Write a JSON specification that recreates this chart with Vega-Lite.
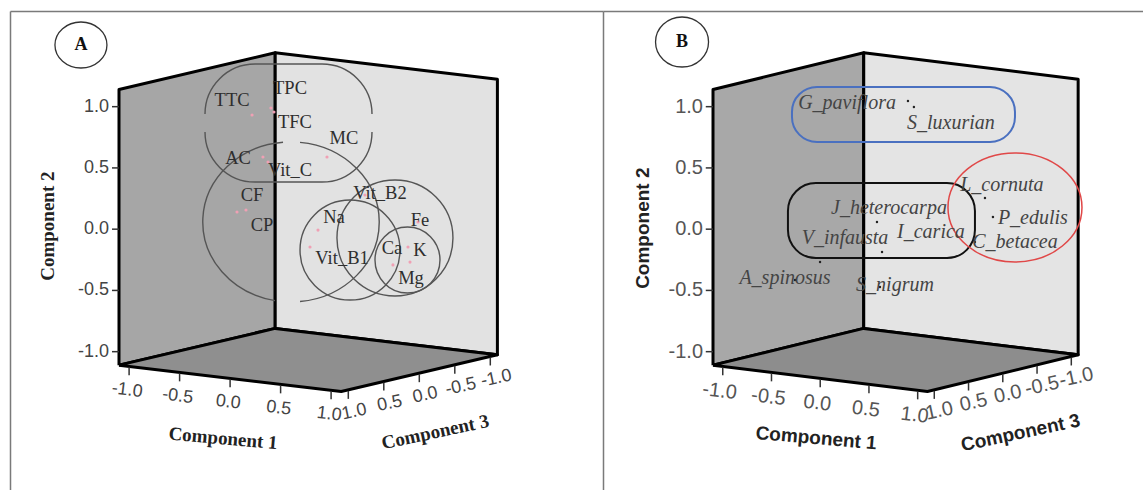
{
  "$schema": "https://vega.github.io/schema/vega-lite/v6.json",
  "padding": {"left": 10, "top": 11, "right": 0, "bottom": 0},
  "spacing": 0,
  "bounds": "flush",
  "background": "white",
  "config": {"view": {"stroke": null}},
  "resolve": {"scale": {"x": "independent", "y": "independent"}},
  "data": {"values": [
    {"kind":"face","face":"left","idx":0,"c1":-1.1,"c2":-1.11,"c3":1.1},
    {"kind":"face","face":"left","idx":1,"c1":-1.1,"c2":1.14,"c3":1.1},
    {"kind":"face","face":"left","idx":2,"c1":-1.1,"c2":1.14,"c3":-1.1},
    {"kind":"face","face":"left","idx":3,"c1":-1.1,"c2":-1.11,"c3":-1.1},
    {"kind":"face","face":"left","idx":4,"c1":-1.1,"c2":-1.11,"c3":1.1},
    {"kind":"face","face":"right","idx":0,"c1":-1.1,"c2":-1.11,"c3":-1.1},
    {"kind":"face","face":"right","idx":1,"c1":-1.1,"c2":1.14,"c3":-1.1},
    {"kind":"face","face":"right","idx":2,"c1":1.1,"c2":1.14,"c3":-1.1},
    {"kind":"face","face":"right","idx":3,"c1":1.1,"c2":-1.11,"c3":-1.1},
    {"kind":"face","face":"right","idx":4,"c1":-1.1,"c2":-1.11,"c3":-1.1},
    {"kind":"face","face":"floor","idx":0,"c1":-1.1,"c2":-1.11,"c3":1.1},
    {"kind":"face","face":"floor","idx":1,"c1":-1.1,"c2":-1.11,"c3":-1.1},
    {"kind":"face","face":"floor","idx":2,"c1":1.1,"c2":-1.11,"c3":-1.1},
    {"kind":"face","face":"floor","idx":3,"c1":1.1,"c2":-1.11,"c3":1.1},
    {"kind":"face","face":"floor","idx":4,"c1":-1.1,"c2":-1.11,"c3":1.1},

    {"kind":"tick","axis":"c2","c1":-1.1,"c2":1.0,"c3":1.1,"label":"1.0"},
    {"kind":"tick","axis":"c2","c1":-1.1,"c2":0.5,"c3":1.1,"label":"0.5"},
    {"kind":"tick","axis":"c2","c1":-1.1,"c2":0.0,"c3":1.1,"label":"0.0"},
    {"kind":"tick","axis":"c2","c1":-1.1,"c2":-0.5,"c3":1.1,"label":"-0.5"},
    {"kind":"tick","axis":"c2","c1":-1.1,"c2":-1.0,"c3":1.1,"label":"-1.0"},
    {"kind":"tick","axis":"c1","c1":-1.0,"c2":-1.11,"c3":1.1,"label":"-1.0"},
    {"kind":"tick","axis":"c1","c1":-0.5,"c2":-1.11,"c3":1.1,"label":"-0.5"},
    {"kind":"tick","axis":"c1","c1":0.0,"c2":-1.11,"c3":1.1,"label":"0.0"},
    {"kind":"tick","axis":"c1","c1":0.5,"c2":-1.11,"c3":1.1,"label":"0.5"},
    {"kind":"tick","axis":"c1","c1":1.0,"c2":-1.11,"c3":1.1,"label":"1.0"},
    {"kind":"tick","axis":"c3","c1":1.1,"c2":-1.11,"c3":1.0,"label":"1.0"},
    {"kind":"tick","axis":"c3","c1":1.1,"c2":-1.11,"c3":0.5,"label":"0.5"},
    {"kind":"tick","axis":"c3","c1":1.1,"c2":-1.11,"c3":0.0,"label":"0.0"},
    {"kind":"tick","axis":"c3","c1":1.1,"c2":-1.11,"c3":-0.5,"label":"-0.5"},
    {"kind":"tick","axis":"c3","c1":1.1,"c2":-1.11,"c3":-1.0,"label":"-1.0"},
    {"kind":"title","axis":"c1","c1":0.0,"c2":-1.11,"c3":1.1,"label":"Component 1"},
    {"kind":"title","axis":"c3","c1":1.1,"c2":-1.11,"c3":0.0,"label":"Component 3"},
    {"kind":"title","axis":"c2","c1":-1.1,"c2":0.0,"c3":1.1,"label":"Component 2"},

    {"kind":"pt","panel":"A","name":"TTC","c1":-0.556,"c2":0.835,"c3":0,"lc1":-0.754,"lc2":0.938},
    {"kind":"pt","panel":"A","name":"TPC","c1":-0.369,"c2":0.911,"c3":0,"lc1":-0.180,"lc2":1.093},
    {"kind":"pt","panel":"A","name":"TFC","c1":-0.339,"c2":0.881,"c3":0,"lc1":-0.131,"lc2":0.820},
    {"kind":"pt","panel":"A","name":"MC","c1":0.186,"c2":0.565,"c3":0,"lc1":0.354,"lc2":0.737},
    {"kind":"pt","panel":"A","name":"AC","c1":-0.448,"c2":0.503,"c3":0,"lc1":-0.695,"lc2":0.471},
    {"kind":"pt","panel":"A","name":"Vit_C","c1":-0.398,"c2":0.467,"c3":0,"lc1":-0.180,"lc2":0.423},
    {"kind":"pt","panel":"A","name":"CF","c1":-0.705,"c2":0.029,"c3":0,"lc1":-0.556,"lc2":0.182},
    {"kind":"pt","panel":"A","name":"CP","c1":-0.616,"c2":0.054,"c3":0,"lc1":-0.458,"lc2":-0.053},
    {"kind":"pt","panel":"A","name":"Na","c1":0.097,"c2":-0.040,"c3":0,"lc1":0.255,"lc2":0.082},
    {"kind":"pt","panel":"A","name":"Vit_B1","c1":0.018,"c2":-0.186,"c3":0,"lc1":0.335,"lc2":-0.245},
    {"kind":"pt","panel":"A","name":"Vit_B2","c1":0.562,"c2":0.292,"c3":0,"lc1":0.711,"lc2":0.323},
    {"kind":"pt","panel":"A","name":"Fe","c1":1.087,"c2":0.123,"c3":0,"lc1":1.107,"lc2":0.141},
    {"kind":"pt","panel":"A","name":"Ca","c1":0.839,"c2":-0.252,"c3":0,"lc1":0.830,"lc2":-0.115},
    {"kind":"pt","panel":"A","name":"K","c1":0.988,"c2":-0.091,"c3":0,"lc1":1.107,"lc2":-0.104},
    {"kind":"pt","panel":"A","name":"Mg","c1":1.008,"c2":-0.212,"c3":0,"lc1":1.018,"lc2":-0.341},

    {"kind":"pt","panel":"B","name":"G_paviflora","c1":0.127,"c2":1.017,"c3":0,"lc1":-0.498,"lc2":0.939},
    {"kind":"pt","panel":"B","name":"S_luxurian","c1":0.188,"c2":0.974,"c3":0,"lc1":0.568,"lc2":0.880},
    {"kind":"pt","panel":"B","name":"L_cornuta","c1":0.917,"c2":0.302,"c3":0,"lc1":1.091,"lc2":0.425},
    {"kind":"pt","panel":"B","name":"P_edulis","c1":0.999,"c2":0.155,"c3":0,"lc1":1.409,"lc2":0.187},
    {"kind":"pt","panel":"B","name":"C_betacea","c1":0.814,"c2":-0.067,"c3":0,"lc1":1.225,"lc2":-0.027},
    {"kind":"pt","panel":"B","name":"J_heterocarpa","c1":-0.191,"c2":-0.002,"c3":0,"lc1":-0.068,"lc2":0.124},
    {"kind":"pt","panel":"B","name":"I_carica","c1":-0.139,"c2":-0.242,"c3":0,"lc1":0.363,"lc2":-0.030},
    {"kind":"pt","panel":"B","name":"V_infausta","c1":-0.775,"c2":-0.386,"c3":0,"lc1":-0.519,"lc2":-0.165},
    {"kind":"pt","panel":"B","name":"A_spinosus","c1":-1.032,"c2":-0.558,"c3":0,"lc1":-1.135,"lc2":-0.552},
    {"kind":"pt","panel":"B","name":"S_nigrum","c1":-0.160,"c2":-0.530,"c3":0,"lc1":-0.006,"lc2":-0.499},

    {"kind":"ring","panel":"A","ring":"top","c1":-0.195,"c2":0.805,"c3":0},
    {"kind":"ring","panel":"A","ring":"L","c1":-0.170,"c2":0.000,"c3":0},
    {"kind":"ring","panel":"A","ring":"N","c1":0.414,"c2":-0.172,"c3":0},
    {"kind":"ring","panel":"A","ring":"R","c1":0.859,"c2":-0.030,"c3":0},
    {"kind":"ring","panel":"A","ring":"S","c1":0.983,"c2":-0.198,"c3":0},
    {"kind":"ring","panel":"B","ring":"blue","c1":0.081,"c2":0.902,"c3":0},
    {"kind":"ring","panel":"B","ring":"black","c1":-0.145,"c2":0.014,"c3":0},
    {"kind":"ring","panel":"B","ring":"red","c1":1.225,"c2":0.255,"c3":0},
    {"kind":"tag","panel":"A","label":"A","c1":-2.250,"c2":1.241,"c3":0},
    {"kind":"tag","panel":"B","label":"B","c1":-2.191,"c2":1.271,"c3":0}
  ]},
  "hconcat": [
    {
      "width": 593,
      "height": 479,
      "transform": [
        {"filter": "!datum.panel || datum.panel === 'A'"},
        {"calculate": "101*datum.c1 - 71*datum.c3", "as": "h"},
        {"calculate": "-122.5*datum.c2 + 12*datum.c1 + 16.7*datum.c3", "as": "v"}
      ],
      "encoding": {
        "x": {"field": "h", "type": "quantitative", "scale": {"domain": [-298.2, 294.8], "nice": false, "zero": false},
              "axis": {"orient": "top", "labels": false, "ticks": false, "grid": false, "title": null, "domainColor": "#7a7a7a", "domainWidth": 1.5}},
        "y": {"field": "v", "type": "quantitative", "scale": {"domain": [-213, 266], "nice": false, "zero": false, "reverse": true},
              "axis": {"orient": "left", "labels": false, "ticks": false, "grid": false, "title": null, "domainColor": "#7a7a7a", "domainWidth": 1.5}}
      },
      "layer": [
        {"transform": [{"filter": "datum.kind === 'face' && datum.face === 'left'"}],
         "mark": {"type": "line", "fill": "#a6a6a6", "stroke": "#000000", "strokeWidth": 3, "strokeJoin": "round"},
         "encoding": {"order": {"field": "idx", "type": "quantitative"}}},
        {"transform": [{"filter": "datum.kind === 'face' && datum.face === 'right'"}],
         "mark": {"type": "line", "fill": "#e2e2e2", "stroke": "#000000", "strokeWidth": 3, "strokeJoin": "round"},
         "encoding": {"order": {"field": "idx", "type": "quantitative"}}},
        {"transform": [{"filter": "datum.kind === 'face' && datum.face === 'floor'"}],
         "mark": {"type": "line", "fill": "#8f8f8f", "stroke": "#000000", "strokeWidth": 3, "strokeJoin": "round"},
         "encoding": {"order": {"field": "idx", "type": "quantitative"}}},
        {"transform": [{"filter": "datum.kind === 'ring' && datum.ring === 'top'"}],
         "mark": {"type": "point", "shape": "M-83.5,-9A50,50 0 0 1 -33.5,-59L33.5,-59A50,50 0 0 1 83.5,-9M-83.5,9A50,50 0 0 0 -33.5,59L33.5,59A50,50 0 0 0 83.5,9", "size": 4, "filled": false, "stroke": "#555555", "strokeWidth": 1.4, "opacity": 1}},
        {"transform": [{"filter": "datum.kind === 'ring' && datum.ring === 'L'"}],
         "mark": {"type": "point", "shape": "M9,-79.6A88,80 0 0 1 9,79.6M-16,78.7A88,80 0 0 1 -8,-79.7", "size": 4, "filled": false, "stroke": "#555555", "strokeWidth": 1.4, "opacity": 1}},
        {"transform": [{"filter": "datum.kind === 'ring' && datum.ring === 'N'"}],
         "mark": {"type": "point", "shape": "M-50,0A50,50 0 1 0 50,0A50,50 0 1 0 -50,0", "size": 4, "filled": false, "stroke": "#555555", "strokeWidth": 1.4, "opacity": 1}},
        {"transform": [{"filter": "datum.kind === 'ring' && datum.ring === 'R'"}],
         "mark": {"type": "point", "shape": "M-58,0A58,58 0 1 0 58,0A58,58 0 1 0 -58,0", "size": 4, "filled": false, "stroke": "#555555", "strokeWidth": 1.4, "opacity": 1}},
        {"transform": [{"filter": "datum.kind === 'ring' && datum.ring === 'S'"}],
         "mark": {"type": "point", "shape": "M-32.5,0A32.5,33 0 1 0 32.5,0A32.5,33 0 1 0 -32.5,0", "size": 4, "filled": false, "stroke": "#555555", "strokeWidth": 1.4, "opacity": 1}},
        {"transform": [{"filter": "datum.kind === 'pt'"}],
         "mark": {"type": "point", "shape": "circle", "filled": true, "size": 10, "color": "#f0a0b4", "opacity": 1}},
        {"transform": [{"filter": "datum.kind === 'pt'"}, {"calculate": "101*datum.lc1", "as": "h"}, {"calculate": "-122.5*datum.lc2 + 12*datum.lc1", "as": "v"}],
         "mark": {"type": "text", "font": "Liberation Serif", "fontSize": 18.5, "fill": "#2e2e2e"},
         "encoding": {"text": {"field": "name"}}},
        {"transform": [{"filter": "datum.kind === 'tick'"},
                       {"calculate": "datum.axis === 'c2' ? datum.h - 7 : datum.h", "as": "hb"},
                       {"calculate": "datum.axis === 'c2' ? datum.v : datum.v + 9", "as": "vb"},
                       {"calculate": "datum.axis === 'c2' ? datum.v : datum.v + 1", "as": "v"}],
         "mark": {"type": "rule", "stroke": "#333333", "strokeWidth": 1.5},
         "encoding": {"x2": {"field": "hb"}, "y2": {"field": "vb"}}},
        {"transform": [{"filter": "datum.kind === 'tick' && datum.axis === 'c2'"}],
         "mark": {"type": "text", "align": "right", "dx": -10, "font": "Liberation Sans", "fontSize": 18, "fill": "#444444"},
         "encoding": {"text": {"field": "label"}}},
        {"transform": [{"filter": "datum.kind === 'tick' && datum.axis === 'c1'"}],
         "mark": {"type": "text", "angle": 7, "dx": 1, "dy": 24, "font": "Liberation Sans", "fontSize": 18, "fill": "#444444"},
         "encoding": {"text": {"field": "label"}}},
        {"transform": [{"filter": "datum.kind === 'tick' && datum.axis === 'c3'"}],
         "mark": {"type": "text", "angle": 348, "dx": 1.3, "dy": 22.8, "font": "Liberation Sans", "fontSize": 18, "fill": "#444444"},
         "encoding": {"text": {"field": "label"}}},
        {"transform": [{"filter": "datum.kind === 'title' && datum.axis === 'c1'"}],
         "mark": {"type": "text", "angle": 5, "dx": -1.7, "dy": 60.4, "font": "Liberation Serif", "fontWeight": "bold", "fontSize": 19, "fill": "#222222"},
         "encoding": {"text": {"field": "label"}}},
        {"transform": [{"filter": "datum.kind === 'title' && datum.axis === 'c3'"}],
         "mark": {"type": "text", "angle": 348, "dx": 3.4, "dy": 61, "font": "Liberation Serif", "fontWeight": "bold", "fontSize": 19, "fill": "#222222"},
         "encoding": {"text": {"field": "label"}}},
        {"transform": [{"filter": "datum.kind === 'title' && datum.axis === 'c2'"}],
         "mark": {"type": "text", "angle": 270, "dx": 3, "dy": -71, "font": "Liberation Serif", "fontWeight": "bold", "fontSize": 19, "fill": "#222222"},
         "encoding": {"text": {"field": "label"}}},
        {"transform": [{"filter": "datum.kind === 'tag'"}],
         "mark": {"type": "point", "shape": "M-26,0A26,23 0 1 0 26,0A26,23 0 1 0 -26,0", "size": 4, "filled": false, "stroke": "#333333", "strokeWidth": 1.3, "opacity": 1}},
        {"transform": [{"filter": "datum.kind === 'tag'"}],
         "mark": {"type": "text", "font": "Liberation Serif", "fontWeight": "bold", "fontSize": 18, "fill": "#111111"},
         "encoding": {"text": {"field": "label"}}}
      ]
    },
    {
      "width": 540,
      "height": 479,
      "transform": [
        {"filter": "!datum.panel || datum.panel === 'B'"},
        {"calculate": "101*datum.c1 - 71*datum.c3", "as": "h"},
        {"calculate": "-122.5*datum.c2 + 12*datum.c1 + 16.7*datum.c3", "as": "v"}
      ],
      "encoding": {
        "x": {"field": "h", "type": "quantitative", "scale": {"domain": [-303.2, 256.4], "nice": false, "zero": false},
              "axis": {"orient": "top", "labels": false, "ticks": false, "grid": false, "title": null, "domainColor": "#7a7a7a", "domainWidth": 1.5}},
        "y": {"field": "v", "type": "quantitative", "scale": {"domain": [-213, 266], "nice": false, "zero": false, "reverse": true},
              "axis": {"orient": "left", "labels": false, "ticks": false, "grid": false, "title": null, "domainColor": "#7a7a7a", "domainWidth": 1.5}}
      },
      "layer": [
        {"transform": [{"filter": "datum.kind === 'face' && datum.face === 'left'"}],
         "mark": {"type": "line", "fill": "#a8a8a8", "stroke": "#000000", "strokeWidth": 3, "strokeJoin": "round"},
         "encoding": {"order": {"field": "idx", "type": "quantitative"}}},
        {"transform": [{"filter": "datum.kind === 'face' && datum.face === 'right'"}],
         "mark": {"type": "line", "fill": "#e4e4e4", "stroke": "#000000", "strokeWidth": 3, "strokeJoin": "round"},
         "encoding": {"order": {"field": "idx", "type": "quantitative"}}},
        {"transform": [{"filter": "datum.kind === 'face' && datum.face === 'floor'"}],
         "mark": {"type": "line", "fill": "#8d8d8d", "stroke": "#000000", "strokeWidth": 3, "strokeJoin": "round"},
         "encoding": {"order": {"field": "idx", "type": "quantitative"}}},
        {"transform": [{"filter": "datum.kind === 'ring' && datum.ring === 'blue'"}],
         "mark": {"type": "point", "shape": "M-86.5,-27.5L86.5,-27.5A25,25 0 0 1 111.5,-2.5L111.5,2.5A25,25 0 0 1 86.5,27.5L-86.5,27.5A25,25 0 0 1 -111.5,2.5L-111.5,-2.5A25,25 0 0 1 -86.5,-27.5Z", "size": 4, "filled": false, "stroke": "#4a70c0", "strokeWidth": 2, "opacity": 1}},
        {"transform": [{"filter": "datum.kind === 'ring' && datum.ring === 'black'"}],
         "mark": {"type": "point", "shape": "M-65.5,-37.5L65.5,-37.5A28,28 0 0 1 93.5,-9.5L93.5,9.5A28,28 0 0 1 65.5,37.5L-65.5,37.5A28,28 0 0 1 -93.5,9.5L-93.5,-9.5A28,28 0 0 1 -65.5,-37.5Z", "size": 4, "filled": false, "stroke": "#111111", "strokeWidth": 2, "opacity": 1}},
        {"transform": [{"filter": "datum.kind === 'ring' && datum.ring === 'red'"}],
         "mark": {"type": "point", "shape": "M-67,0A67,54.5 0 1 0 67,0A67,54.5 0 1 0 -67,0Z", "size": 4, "filled": false, "stroke": "#e04848", "strokeWidth": 1.5, "opacity": 1}},
        {"transform": [{"filter": "datum.kind === 'pt'"}],
         "mark": {"type": "point", "shape": "circle", "filled": true, "size": 6, "color": "#222222", "opacity": 1}},
        {"transform": [{"filter": "datum.kind === 'pt'"}, {"calculate": "101*datum.lc1", "as": "h"}, {"calculate": "-122.5*datum.lc2 + 12*datum.lc1", "as": "v"}],
         "mark": {"type": "text", "font": "Liberation Serif", "fontStyle": "italic", "fontSize": 20, "fill": "#444444"},
         "encoding": {"text": {"field": "name"}}},
        {"transform": [{"filter": "datum.kind === 'tick'"},
                       {"calculate": "datum.axis === 'c2' ? datum.h - 7.5 : datum.h", "as": "hb"},
                       {"calculate": "datum.axis === 'c2' ? datum.v : datum.v + 9", "as": "vb"},
                       {"calculate": "datum.axis === 'c2' ? datum.v : datum.v + 1", "as": "v"}],
         "mark": {"type": "rule", "stroke": "#333333", "strokeWidth": 1.5},
         "encoding": {"x2": {"field": "hb"}, "y2": {"field": "vb"}}},
        {"transform": [{"filter": "datum.kind === 'tick' && datum.axis === 'c2'"}],
         "mark": {"type": "text", "align": "right", "dx": -10, "font": "Liberation Sans", "fontSize": 20, "fill": "#555555"},
         "encoding": {"text": {"field": "label"}}},
        {"transform": [{"filter": "datum.kind === 'tick' && datum.axis === 'c1'"}],
         "mark": {"type": "text", "angle": 7, "dx": 0, "dy": 25, "font": "Liberation Sans", "fontSize": 20, "fill": "#555555"},
         "encoding": {"text": {"field": "label"}}},
        {"transform": [{"filter": "datum.kind === 'tick' && datum.axis === 'c3'"}],
         "mark": {"type": "text", "angle": 348, "dx": 0.5, "dy": 21.6, "font": "Liberation Sans", "fontSize": 20, "fill": "#555555"},
         "encoding": {"text": {"field": "label"}}},
        {"transform": [{"filter": "datum.kind === 'title' && datum.axis === 'c1'"}],
         "mark": {"type": "text", "angle": 5, "dx": 1.2, "dy": 60, "font": "Liberation Sans", "fontWeight": "bold", "fontSize": 19, "fill": "#222222"},
         "encoding": {"text": {"field": "label"}}},
        {"transform": [{"filter": "datum.kind === 'title' && datum.axis === 'c3'"}],
         "mark": {"type": "text", "angle": 348, "dx": 5, "dy": 62, "font": "Liberation Sans", "fontWeight": "bold", "fontSize": 19, "fill": "#222222"},
         "encoding": {"text": {"field": "label"}}},
        {"transform": [{"filter": "datum.kind === 'title' && datum.axis === 'c2'"}],
         "mark": {"type": "text", "angle": 270, "dx": 1, "dy": -70, "font": "Liberation Sans", "fontWeight": "bold", "fontSize": 19, "fill": "#222222"},
         "encoding": {"text": {"field": "label"}}},
        {"transform": [{"filter": "datum.kind === 'tag'"}],
         "mark": {"type": "point", "shape": "M-26.5,0A26.5,25 0 1 0 26.5,0A26.5,25 0 1 0 -26.5,0", "size": 4, "filled": false, "stroke": "#333333", "strokeWidth": 1.3, "opacity": 1}},
        {"transform": [{"filter": "datum.kind === 'tag'"}],
         "mark": {"type": "text", "font": "Liberation Serif", "fontWeight": "bold", "fontSize": 18, "fill": "#111111"},
         "encoding": {"text": {"field": "label"}}}
      ]
    }
  ]
}
